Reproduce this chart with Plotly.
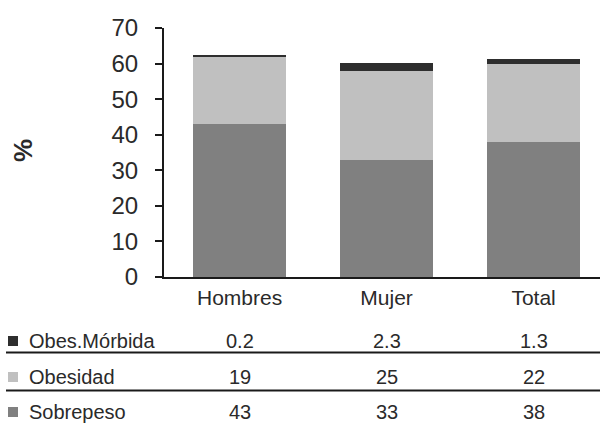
import plotly.graph_objects as go

# Prevalence of overweight and obesity (%), by sex
categories = ["Hombres", "Mujer", "Total"]
sobrepeso = [43, 33, 38]
obesidad = [19, 25, 22]
obes_morbida = [0.2, 2.3, 1.3]

series_names = ["Sobrepeso", "Obesidad", "Obes.Mórbida"]
series_values = [sobrepeso, obesidad, obes_morbida]
series_colors = ["#808080", "#c0c0c0", "#2e2e2e"]

y_ticks = [0, 10, 20, 30, 40, 50, 60, 70]

FONT = "Liberation Sans, Arial, sans-serif"
TEXT = "#2a2a2a"

W, H = 600, 429
ML, MR, MT, MB = 164, 0, 28, 152
PW = W - ML - MR
PH = H - MT - MB

def px_to_paper_x(px):
    return (px - ML) / PW

def px_to_paper_y(py):
    return (H - MB - py) / PH

def fmt(v):
    return f"{v:g}"

fig = go.Figure()
for name, vals, col in zip(series_names, series_values, series_colors):
    fig.add_trace(go.Bar(
        x=categories, y=vals, name=name,
        marker=dict(color=col, line=dict(width=0)),
        showlegend=False,
    ))

# Data table below the chart: rows from top to bottom
table_rows = list(zip(series_names, series_values, series_colors))[::-1]
row_centers = [341, 377, 412]
row_lines = [352.5, 390.5]

annotations = []
shapes = []
for (name, vals, col), py in zip(table_rows, row_centers):
    yp = px_to_paper_y(py)
    annotations.append(dict(
        xref="paper", yref="paper", x=px_to_paper_x(27), y=yp,
        xanchor="left", yanchor="middle", showarrow=False,
        text=name, font=dict(family=FONT, size=20, color=TEXT),
    ))
    shapes.append(dict(
        type="rect", xref="paper", yref="paper",
        x0=px_to_paper_x(8), x1=px_to_paper_x(18),
        y0=px_to_paper_y(py + 5), y1=px_to_paper_y(py - 5),
        fillcolor=col, line=dict(width=0),
    ))
    for cat, v in zip(categories, vals):
        annotations.append(dict(
            xref="x", yref="paper", x=cat, y=yp,
            xanchor="center", yanchor="middle", showarrow=False,
            text=fmt(v), font=dict(family=FONT, size=20, color=TEXT),
        ))

for py in row_lines:
    shapes.append(dict(
        type="line", xref="paper", yref="paper",
        x0=px_to_paper_x(6), x1=1.0,
        y0=px_to_paper_y(py), y1=px_to_paper_y(py),
        line=dict(color="#1a1a1a", width=2),
    ))

# Y-axis title, set well to the left of the tick labels
annotations.append(dict(
    xref="paper", yref="paper", x=px_to_paper_x(23), y=px_to_paper_y(151),
    xanchor="center", yanchor="middle", showarrow=False, textangle=-90,
    text="<b>%</b>", font=dict(family=FONT, size=26, color=TEXT),
))

fig.update_layout(
    width=W, height=H,
    margin=dict(l=ML, r=MR, t=MT, b=MB, pad=0),
    barmode="stack",
    bargap=0.367,
    paper_bgcolor="white",
    plot_bgcolor="white",
    font=dict(family=FONT, color=TEXT),
    annotations=annotations,
    shapes=shapes,
    xaxis=dict(
        range=[-0.514, 2.452],
        showline=True, linecolor="#1a1a1a", linewidth=2,
        ticks="", showgrid=False, zeroline=False,
        tickfont=dict(family=FONT, size=21, color=TEXT),
        ticklabelstandoff=1,
    ),
    yaxis=dict(
        range=[0, 70],
        tickvals=y_ticks,
        showline=True, linecolor="#1a1a1a", linewidth=2,
        ticks="outside", ticklen=7, tickwidth=2, tickcolor="#1a1a1a",
        showgrid=False, zeroline=False,
        tickfont=dict(family=FONT, size=24, color=TEXT),
        ticklabelstandoff=12,
    ),
)

fig.write_html("out.html")
